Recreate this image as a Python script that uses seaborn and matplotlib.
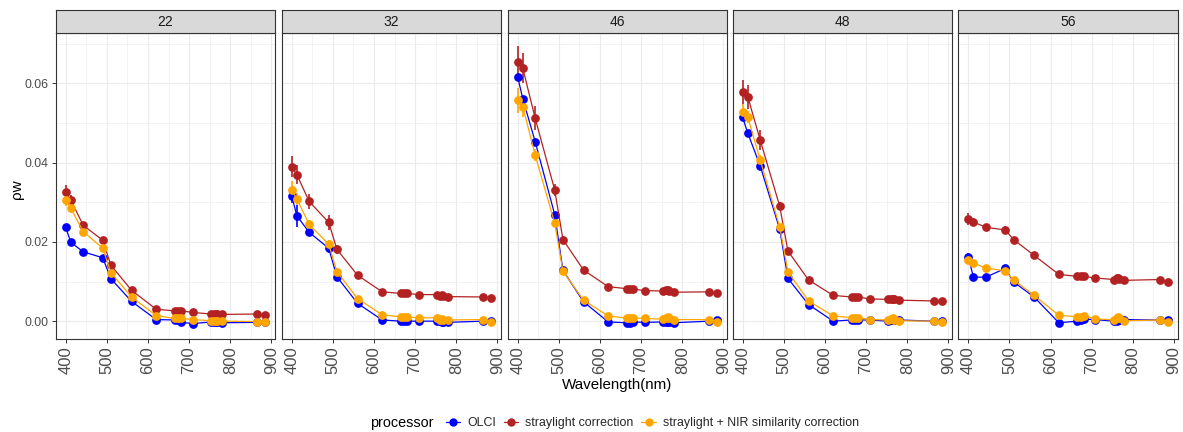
import numpy as np
import pandas as pd
import matplotlib
matplotlib.use("Agg")
import matplotlib.pyplot as plt
from matplotlib.lines import Line2D
import seaborn as sns

# ---------------- data ----------------
wavelength = [400, 412.5, 442.5, 490, 510, 560, 620, 665, 673.75, 681.25,
              708.75, 753.75, 761.25, 764.375, 767.5, 778.75, 865, 885]
stations = ["22", "32", "46", "48", "56"]
processors = ["OLCI", "straylight correction", "straylight + NIR similarity correction"]

olci_22 = [0.0237, 0.0199, 0.0175, 0.0160, 0.0107, 0.0050, 0.0004, 0.0003, 0.0002, -0.0003,
           -0.0006, -0.0002, -0.0002, -0.0003, -0.0003, -0.0004, -0.0003, -0.0003]
stray_22 = [0.0325, 0.0306, 0.0242, 0.0204, 0.0141, 0.0078, 0.0030, 0.0026, 0.0026, 0.0026,
            0.0022, 0.0018, 0.0018, 0.0018, 0.0018, 0.0017, 0.0018, 0.0016]
nir_22 = [0.0306, 0.0285, 0.0226, 0.0184, 0.0122, 0.0061, 0.0014, 0.0007, 0.0007, 0.0007,
          0.0004, 0.0001, 0.0001, 0.0001, 0.0001, 0.0000, -0.0001, -0.0002]

olci_32 = [0.0317, 0.0266, 0.0224, 0.0184, 0.0112, 0.0045, 0.0003, 0.0000, 0.0000, 0.0000,
           0.0000, 0.0000, 0.0000, -0.0001, -0.0002, -0.0003, 0.0000, 0.0000]
stray_32 = [0.0390, 0.0370, 0.0302, 0.0249, 0.0181, 0.0116, 0.0074, 0.0070, 0.0070, 0.0070,
            0.0067, 0.0067, 0.0063, 0.0065, 0.0063, 0.0062, 0.0061, 0.0058]
nir_32 = [0.0331, 0.0309, 0.0244, 0.0194, 0.0125, 0.0057, 0.0016, 0.0011, 0.0011, 0.0011,
          0.0008, 0.0009, 0.0004, 0.0006, 0.0004, 0.0003, 0.0004, -0.0002]

olci_46 = [0.0616, 0.0561, 0.0453, 0.0269, 0.0128, 0.0049, -0.0002, -0.0004, -0.0004, -0.0002,
           -0.0003, -0.0002, -0.0002, -0.0003, -0.0003, -0.0004, 0.0000, 0.0003]
stray_46 = [0.0653, 0.0638, 0.0512, 0.0331, 0.0206, 0.0129, 0.0087, 0.0082, 0.0082, 0.0081,
            0.0077, 0.0076, 0.0078, 0.0078, 0.0077, 0.0073, 0.0074, 0.0071]
nir_46 = [0.0557, 0.0541, 0.0419, 0.0247, 0.0126, 0.0053, 0.0013, 0.0008, 0.0008, 0.0008,
          0.0007, 0.0005, 0.0008, 0.0010, 0.0007, 0.0004, 0.0004, -0.0001]

olci_48 = [0.0514, 0.0474, 0.0392, 0.0232, 0.0108, 0.0042, 0.0000, 0.0003, 0.0003, 0.0003,
           0.0003, 0.0000, 0.0003, 0.0004, 0.0004, 0.0003, 0.0000, 0.0000]
stray_48 = [0.0578, 0.0566, 0.0457, 0.0290, 0.0177, 0.0104, 0.0065, 0.0061, 0.0061, 0.0061,
            0.0056, 0.0055, 0.0056, 0.0056, 0.0055, 0.0053, 0.0051, 0.0050]
nir_48 = [0.0527, 0.0514, 0.0407, 0.0238, 0.0125, 0.0051, 0.0013, 0.0009, 0.0009, 0.0009,
          0.0004, 0.0003, 0.0006, 0.0007, 0.0004, 0.0001, 0.0000, -0.0002]

olci_56 = [0.0163, 0.0111, 0.0111, 0.0133, 0.0099, 0.0061, -0.0004, 0.0000, 0.0003, 0.0005,
           0.0004, 0.0000, 0.0001, 0.0002, 0.0002, 0.0004, 0.0003, 0.0004]
stray_56 = [0.0258, 0.0250, 0.0237, 0.0230, 0.0206, 0.0166, 0.0118, 0.0113, 0.0113, 0.0113,
            0.0109, 0.0105, 0.0109, 0.0110, 0.0107, 0.0103, 0.0105, 0.0100]
nir_56 = [0.0155, 0.0147, 0.0134, 0.0127, 0.0104, 0.0065, 0.0015, 0.0011, 0.0011, 0.0013,
          0.0006, 0.0003, 0.0009, 0.0011, 0.0007, 0.0001, 0.0003, -0.0001]

# standard deviations (error bars)
olci_err_22 = [0.0008, 0.0006, 0.0005, 0.0005, 0.0004, 0.0003, 0.0002, 0.0002, 0.0002, 0.0002,
               0.0002, 0.0002, 0.0002, 0.0002, 0.0002, 0.0002, 0.0002, 0.0002]
stray_err_22 = [0.0019, 0.0012, 0.0008, 0.0007, 0.0005, 0.0004, 0.0003, 0.0002, 0.0002, 0.0002,
                0.0002, 0.0002, 0.0002, 0.0002, 0.0002, 0.0002, 0.0002, 0.0002]
nir_err_22 = [0.0015, 0.0012, 0.0007, 0.0006, 0.0005, 0.0004, 0.0003, 0.0002, 0.0002, 0.0002,
              0.0002, 0.0002, 0.0002, 0.0002, 0.0002, 0.0002, 0.0002, 0.0002]

olci_err_32 = [0.0020, 0.0028, 0.0010, 0.0013, 0.0008, 0.0005, 0.0003, 0.0002, 0.0002, 0.0002,
               0.0002, 0.0002, 0.0002, 0.0002, 0.0002, 0.0002, 0.0002, 0.0002]
stray_err_32 = [0.0027, 0.0023, 0.0020, 0.0019, 0.0012, 0.0006, 0.0004, 0.0004, 0.0004, 0.0004,
                0.0003, 0.0003, 0.0003, 0.0003, 0.0003, 0.0003, 0.0003, 0.0003]
nir_err_32 = [0.0023, 0.0015, 0.0012, 0.0010, 0.0008, 0.0005, 0.0003, 0.0002, 0.0002, 0.0002,
              0.0002, 0.0002, 0.0002, 0.0002, 0.0002, 0.0002, 0.0002, 0.0002]

olci_err_46 = [0.0010, 0.0008, 0.0008, 0.0006, 0.0005, 0.0004, 0.0002, 0.0002, 0.0002, 0.0002,
               0.0002, 0.0002, 0.0002, 0.0002, 0.0002, 0.0002, 0.0002, 0.0002]
stray_err_46 = [0.0040, 0.0038, 0.0030, 0.0015, 0.0008, 0.0005, 0.0004, 0.0003, 0.0003, 0.0003,
                0.0003, 0.0003, 0.0003, 0.0003, 0.0003, 0.0003, 0.0003, 0.0003]
nir_err_46 = [0.0031, 0.0025, 0.0015, 0.0010, 0.0006, 0.0004, 0.0003, 0.0002, 0.0002, 0.0002,
              0.0002, 0.0002, 0.0002, 0.0002, 0.0002, 0.0002, 0.0002, 0.0002]

olci_err_48 = [0.0010, 0.0008, 0.0007, 0.0006, 0.0005, 0.0004, 0.0002, 0.0002, 0.0002, 0.0002,
               0.0002, 0.0002, 0.0002, 0.0002, 0.0002, 0.0002, 0.0002, 0.0002]
stray_err_48 = [0.0030, 0.0030, 0.0025, 0.0010, 0.0006, 0.0005, 0.0003, 0.0003, 0.0003, 0.0003,
                0.0003, 0.0003, 0.0003, 0.0003, 0.0003, 0.0003, 0.0003, 0.0003]
nir_err_48 = [0.0020, 0.0015, 0.0012, 0.0008, 0.0006, 0.0004, 0.0003, 0.0002, 0.0002, 0.0002,
              0.0002, 0.0002, 0.0002, 0.0002, 0.0002, 0.0002, 0.0002, 0.0002]

olci_err_56 = [0.0008, 0.0006, 0.0005, 0.0005, 0.0004, 0.0003, 0.0002, 0.0002, 0.0002, 0.0002,
               0.0002, 0.0002, 0.0002, 0.0002, 0.0002, 0.0002, 0.0002, 0.0002]
stray_err_56 = [0.0015, 0.0010, 0.0008, 0.0010, 0.0006, 0.0004, 0.0003, 0.0003, 0.0003, 0.0003,
                0.0003, 0.0003, 0.0003, 0.0003, 0.0003, 0.0003, 0.0003, 0.0003]
nir_err_56 = [0.0008, 0.0006, 0.0005, 0.0005, 0.0004, 0.0003, 0.0002, 0.0002, 0.0002, 0.0002,
              0.0002, 0.0002, 0.0002, 0.0002, 0.0002, 0.0002, 0.0002, 0.0002]

values = {
    "22": (olci_22, stray_22, nir_22),
    "32": (olci_32, stray_32, nir_32),
    "46": (olci_46, stray_46, nir_46),
    "48": (olci_48, stray_48, nir_48),
    "56": (olci_56, stray_56, nir_56),
}
errors = {
    "22": (olci_err_22, stray_err_22, nir_err_22),
    "32": (olci_err_32, stray_err_32, nir_err_32),
    "46": (olci_err_46, stray_err_46, nir_err_46),
    "48": (olci_err_48, stray_err_48, nir_err_48),
    "56": (olci_err_56, stray_err_56, nir_err_56),
}

rows = []
for st in stations:
    for p, vals, errs in zip(processors, values[st], errors[st]):
        for wl, v, e in zip(wavelength, vals, errs):
            rows.append({"station": st, "processor": p, "wl": wl, "rho": v, "sd": e})
df = pd.DataFrame(rows)

colors = ["#0000FF", "#B22222", "#FFA500"]
palette = dict(zip(processors, colors))

# ---------------- style ----------------
sns.set_style("white")
plt.rcParams["font.family"] = ["Liberation Sans", "DejaVu Sans"]

W, H = 1183, 432
fig = plt.figure(figsize=(W / 100, H / 100), dpi=100)

panel_top, panel_bot = 33, 339
strip_top = 10
lefts = [55.7, 281.7, 507.7, 732.7, 958.3]
pw = 219.5

xlim = (375.75, 909.25)
ylim = (-0.0045, 0.0727)
border = "#333333"
gridc = "#EBEBEB"
tickc = "#4D4D4D"

for i, st in enumerate(stations):
    l = lefts[i]
    ax = fig.add_axes([l / W, (H - panel_bot) / H, pw / W, (panel_bot - panel_top) / H])
    sub = df[df.station == st]
    # error bars
    for p in processors:
        s = sub[sub.processor == p]
        ax.vlines(s.wl, s.rho - s.sd, s.rho + s.sd, color=palette[p], lw=1.2, zorder=3)
    sns.lineplot(data=sub, x="wl", y="rho", hue="processor", hue_order=processors,
                 palette=palette, marker="o", markersize=6.3, markeredgewidth=0,
                 linewidth=0.9, errorbar=None, legend=False, ax=ax, zorder=4,
                 estimator=None, sort=True)
    ax.set_xlim(*xlim)
    ax.set_ylim(*ylim)
    ax.set_xticks([400, 500, 600, 700, 800, 900])
    ax.set_xticks([450, 550, 650, 750, 850], minor=True)
    ax.set_yticks([0.0, 0.02, 0.04, 0.06])
    ax.set_yticks([0.01, 0.03, 0.05, 0.07], minor=True)
    ax.grid(True, which="major", color=gridc, lw=0.8)
    ax.grid(True, which="minor", color=gridc, lw=0.4)
    ax.set_axisbelow(True)
    for sp in ax.spines.values():
        sp.set_color(border)
        sp.set_linewidth(0.8)
    ax.set_xlabel("")
    ax.set_ylabel("")
    ax.tick_params(axis="x", which="major", length=3, width=0.7, color=border,
                   labelsize=12, labelcolor=tickc, labelrotation=90, pad=2, bottom=True)
    ax.tick_params(which="minor", length=0)
    if i == 0:
        ax.set_yticklabels(["0.00", "0.02", "0.04", "0.06"])
        ax.tick_params(axis="y", which="major", length=3, width=0.7, color=border,
                       labelsize=8.9, labelcolor=tickc, pad=2, left=True)
    else:
        ax.tick_params(axis="y", which="major", left=False, labelleft=False)

    # facet strip
    sax = fig.add_axes([l / W, (H - panel_top) / H, pw / W, (panel_top - strip_top) / H])
    sax.set_facecolor("#D9D9D9")
    sax.set_xticks([])
    sax.set_yticks([])
    for sp in sax.spines.values():
        sp.set_color(border)
        sp.set_linewidth(0.8)
    sax.text(0.5, 0.5, st, ha="center", va="center", fontsize=10, color="#1A1A1A",
             transform=sax.transAxes)

fig.text(17 / W, 1 - 189 / H, "\u03c1w", rotation=90, ha="center", va="center",
         fontsize=11, color="black")
fig.text(616.7 / W, 1 - 385 / H, "Wavelength(nm)", ha="center", va="center",
         fontsize=10.9, color="black")

# legend
fig.text(370 / W, 1 - 423 / H, "processor", ha="left", va="center", fontsize=10.4, color="black")
handles = [Line2D([0], [0], color=c, lw=0.9, marker="o", markersize=6, markeredgewidth=0)
           for c in colors]
fig.legend(handles, processors, loc="center left", bbox_to_anchor=(446 / W, 1 - 423 / H),
           ncol=3, frameon=False, fontsize=8.95, handlelength=1.15, handletextpad=0.55,
           columnspacing=0.65, borderaxespad=0, borderpad=0)

fig.savefig("out.png", dpi=100)
